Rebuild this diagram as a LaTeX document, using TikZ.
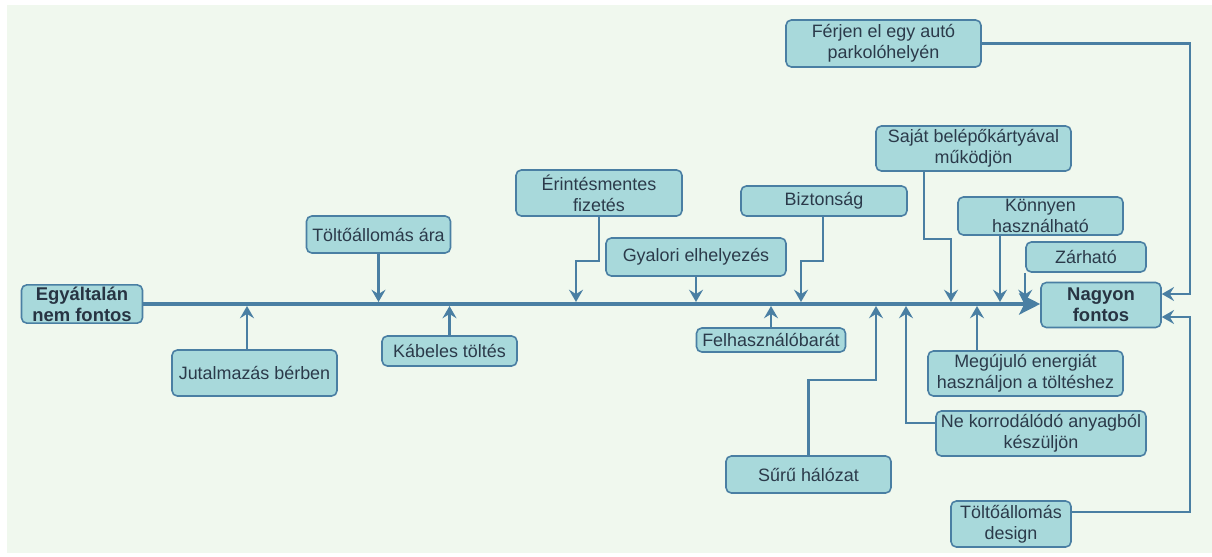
\documentclass[tikz,border=0pt]{standalone}
\usepackage{fontspec}
\setsansfont{Liberation Sans}
\usetikzlibrary{arrows.meta}
\definecolor{bg}{HTML}{F0F8EE}
\definecolor{boxfill}{HTML}{A8D9DB}
\definecolor{edge}{HTML}{4A7FA3}
\definecolor{ink}{HTML}{2B3A4A}

\begin{document}
\begin{tikzpicture}[x=0.02cm,y=-0.02cm,
    box/.style={draw=edge,fill=boxfill,line width=0.9pt,rounded corners=3pt,text=ink,
      font=\sffamily\fontsize{10.2}{12}\selectfont,align=center,inner sep=1pt},
    endbox/.style={box,font=\sffamily\bfseries\fontsize{10.5}{12}\selectfont,text=ink!90!black},
    link/.style={draw=edge,line width=1.2pt,-{Stealth[length=7pt,width=8pt,inset=2.5pt]}},
    spine/.style={draw=edge,line width=2.3pt,-{Stealth[length=12pt,width=12pt,inset=3pt]}}]
        \useasboundingbox (0,0) rectangle (1212,557);
        \fill [bg] (7,5) rectangle (1212,553);
        % tail and head
        \node [endbox,minimum width=2.42cm,minimum height=0.76cm] (egy) at (82,304) {Egyáltalán\\nem fontos};
        \node [endbox,minimum width=2.4cm,minimum height=0.9cm] (nagy) at (1101,305) {Nagyon\\fontos};
        \coordinate (top) at (0,302);
        \coordinate (bot) at (0,306);
        \coordinate (rail) at (1190,0);
        \draw [spine] (egy.east) -- (egy.east -| nagy.west);
        % above the spine
        \node [box,minimum width=2.88cm,minimum height=0.74cm] (ara) at (378.5,234.5) {Töltőállomás ára};
        \node [box,minimum width=3.32cm,minimum height=0.92cm] (erint) at (599,193) {Érintésmentes\\fizetés};
        \node [box,minimum width=3.6cm,minimum height=0.76cm] (gyal) at (696,257) {Gyalori elhelyezés};
        \node [box,minimum width=3.32cm,minimum height=0.6cm] (bizt) at (824,201) {Biztonság};
        \node [box,minimum width=3.9cm,minimum height=0.9cm] (sajat) at (973.5,148.5) {Saját belépőkártyával\\működjön};
        \node [box,minimum width=3.3cm,minimum height=0.76cm] (konny) at (1040.5,216) {Könnyen\\használható};
        \node [box,minimum width=2.4cm,minimum height=0.6cm] (zar) at (1086,257) {Zárható};
        \node [box,minimum width=3.9cm,minimum height=0.94cm] (ferj) at (883.5,43.5) {Férjen el egy autó\\parkolóhelyén};
        % below the spine
        \node [box,minimum width=3.3cm,minimum height=0.92cm] (jut) at (254.5,373) {Jutalmazás bérben};
        \node [box,minimum width=2.7cm,minimum height=0.6cm] (kab) at (449.5,351) {Kábeles töltés};
        \node [box,minimum width=2.98cm,minimum height=0.48cm] (felh) at (771,340) {Felhasználóbarát};
        \node [box,minimum width=3.9cm,minimum height=0.9cm] (megu) at (1025.5,373.5) {Megújuló energiát\\használjon a töltéshez};
        \node [box,minimum width=4.2cm,minimum height=0.9cm] (nekor) at (1041,433.5) {Ne korrodálódó anyagból\\készüljön};
        \node [box,minimum width=3.3cm,minimum height=0.74cm] (suru) at (808.5,474.5) {Sűrű hálózat};
        \node [box,minimum width=2.4cm,minimum height=0.92cm] (des) at (1011,524) {Töltőállomás\\design};
        % links from above
        \draw [link] (ara) -- (ara |- top);
        \draw [link] (erint.south) -- ++(0,44) -| (576,0 |- top);
        \draw [link] (gyal) -- (gyal |- top);
        \draw [link] (bizt.south -| 823,0) -- ++(0,44) -| (801,0 |- top);
        \draw [link] (sajat.south -| 924,0) -- ++(0,67) -| (951,0 |- top);
        \draw [link] (konny.south -| 1000,0) -- (1000,0 |- top);
        \draw [link] (zar.south west) -- (zar.south west |- top);
        % links from below
        \draw [link] (jut.north -| 247,0) -- (247,0 |- bot);
        \draw [link] (kab) -- (kab |- bot);
        \draw [link] (felh) -- (felh |- bot);
        \draw [link] (suru.north) -- ++(0,-75) -| (876,0 |- bot);
        \draw [link] (nekor.west |- 0,423) -| (906,0 |- bot);
        \draw [link] (megu.north -| 977,0) -- (977,0 |- bot);
        % links along the right side
        \draw [link] (ferj.east) -| (rail |- 0,294) -- (nagy.east |- 0,294);
        \draw [link] (des.east |- 0,512) -| (rail |- 0,317) -- (nagy.east |- 0,317);
\end{tikzpicture}
\end{document}
